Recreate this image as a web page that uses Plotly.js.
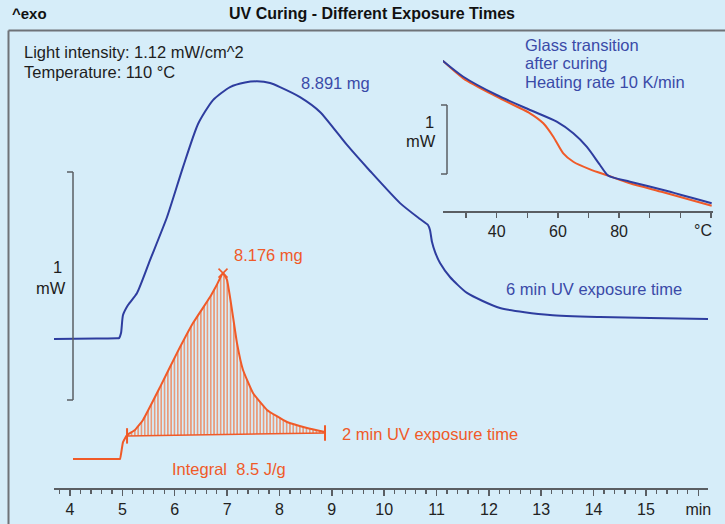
<!DOCTYPE html>
<html>
<head>
<meta charset="utf-8">
<script src="https://cdn.plot.ly/plotly-3.0.1.min.js"></script>
<style>
  html, body { margin: 0; padding: 0; background: #d6edf9; }
  #chart { width: 725px; height: 524px; }
</style>
</head>
<body>
<div id="chart"></div>
<script>
// ---- Main DSC curves (time in min, heat flow in mW, exo up) ----
const blueTime = [3.675, 4.5, 4.90, 4.936, 4.974, 5.012, 5.108, 5.280, 5.528, 5.853, 6.158, 6.445, 6.731, 7.056, 7.342, 7.571, 7.820, 8.011, 8.393, 8.775, 9.290, 9.730, 10.303, 10.685, 10.837, 10.875, 10.914, 10.971, 11.067, 11.257, 11.582, 12.212, 13.167, 14.122, 15.077, 16.185];
const blueHeatFlow = [0, 0.002, 0.003, 0.004, 0.026, 0.105, 0.149, 0.202, 0.346, 0.535, 0.754, 0.943, 1.048, 1.105, 1.125, 1.130, 1.123, 1.105, 1.061, 0.996, 0.851, 0.737, 0.596, 0.526, 0.500, 0.478, 0.425, 0.382, 0.333, 0.272, 0.202, 0.136, 0.105, 0.096, 0.092, 0.088];

const orangeTime = [4.057, 4.6, 4.92, 4.955, 5.012, 5.089, 5.241, 5.394, 5.719, 6.044, 6.349, 6.674, 6.80, 6.922, 6.998, 7.094, 7.189, 7.304, 7.495, 7.762, 8.144, 8.526, 8.870];
const orangeHeatFlow = [-0.526, -0.526, -0.526, -0.526, -0.452, -0.421, -0.399, -0.355, -0.211, -0.061, 0.070, 0.184, 0.236, 0.289, 0.259, 0.127, -0.018, -0.136, -0.237, -0.311, -0.364, -0.390, -0.408];

// integral limits and baseline
const integralTime = [5.089, 8.870];
const integralBaseline = [-0.425, -0.412];
const integralStartIndex = 5;
const peakIndex = 13;

// main axis ticks
const mainTickVals = [4, 5, 6, 7, 8, 9, 10, 11, 12, 13, 14, 15, 16];
const mainTickText = ['4', '5', '6', '7', '8', '9', '10', '11', '12', '13', '14', '15', 'min'];

// ---- Inset: glass transition after curing (°C vs mW) ----
const insetBlueTemp = [22.35, 29.08, 40, 50.88, 59.61, 65.03, 69.41, 73.76, 76.47, 83.56, 94.44, 110.26];
const insetBlueHeatFlow = [2.178, 1.946, 1.681, 1.464, 1.294, 1.126, 0.932, 0.667, 0.512, 0.425, 0.304, 0.112];
const insetOrangeTemp = [22.35, 29.08, 40, 50.88, 55.23, 58.50, 61.76, 65.03, 70.49, 76.47, 83.56, 94.44, 110.26];
const insetOrangeHeatFlow = [2.178, 1.923, 1.657, 1.416, 1.271, 1.077, 0.836, 0.714, 0.604, 0.512, 0.401, 0.271, 0.077];
const insetTickVals = [40, 60, 80];
const insetTickText = ['40', '60', '80'];

// ---- styling ----
const BG = '#d6edf9';
const BLUE = '#2e3d9f';
const BLUE_TXT = '#3a4aa8';
const ORANGE = '#f05a28';
const AXIS = '#5a5e63';
const FONT = 'Liberation Sans, Arial, Helvetica, sans-serif';
const TS = 16.5;
const W = 725, H = 524;
const X = p => p / W;
const Y = p => 1 - p / H;

const traces = [
  { // integral baseline
    x: integralTime, y: integralBaseline, xaxis: 'x', yaxis: 'y',
    mode: 'lines+markers', line: { color: ORANGE, width: 1.5 },
    marker: { symbol: 'line-ns-open', size: 11, color: ORANGE, line: { color: ORANGE, width: 2 } },
    hoverinfo: 'skip', showlegend: false
  },
  { // hatched integral area
    x: orangeTime.slice(integralStartIndex), y: orangeHeatFlow.slice(integralStartIndex),
    xaxis: 'x', yaxis: 'y', mode: 'lines', line: { width: 0, color: ORANGE, shape: 'spline', smoothing: 0.35 },
    fill: 'tonexty', fillcolor: 'rgba(0,0,0,0)',
    fillpattern: { shape: '|', size: 3.3, solidity: 0.34, fgcolor: '#f2743f', bgcolor: 'rgba(0,0,0,0)' },
    hoverinfo: 'skip', showlegend: false
  },
  { // 2 min curve
    x: orangeTime, y: orangeHeatFlow, xaxis: 'x', yaxis: 'y',
    mode: 'lines', line: { color: ORANGE, width: 2, shape: 'spline', smoothing: 0.35 }, hoverinfo: 'skip', showlegend: false
  },
  { // 6 min curve
    x: blueTime, y: blueHeatFlow, xaxis: 'x', yaxis: 'y',
    mode: 'lines', line: { color: BLUE, width: 2, shape: 'spline', smoothing: 0.6 }, hoverinfo: 'skip', showlegend: false
  },
  { // peak marker
    x: [orangeTime[peakIndex]], y: [orangeHeatFlow[peakIndex]], xaxis: 'x', yaxis: 'y',
    mode: 'markers', marker: { symbol: 'x-thin-open', size: 9, color: ORANGE, line: { color: ORANGE, width: 1.5 } },
    hoverinfo: 'skip', showlegend: false
  },
  { // inset orange
    x: insetOrangeTemp, y: insetOrangeHeatFlow, xaxis: 'x2', yaxis: 'y2',
    mode: 'lines', line: { color: ORANGE, width: 2, shape: 'spline', smoothing: 0.7 }, hoverinfo: 'skip', showlegend: false
  },
  { // inset blue
    x: insetBlueTemp, y: insetBlueHeatFlow, xaxis: 'x2', yaxis: 'y2',
    mode: 'lines', line: { color: BLUE, width: 2, shape: 'spline', smoothing: 0.7 }, hoverinfo: 'skip', showlegend: false
  }
];

function ann(text, px, py, opts) {
  return Object.assign({
    text: text, x: X(px), y: Y(py), xref: 'paper', yref: 'paper',
    xanchor: 'left', yanchor: 'middle', showarrow: false,
    font: { family: FONT, size: TS, color: '#1e1e1e' }
  }, opts || {});
}

const annotations = [
  ann('<b>^exo</b>', 10, 14, { font: { family: FONT, size: 15, color: '#111' } }),
  ann('<b>UV Curing - Different Exposure Times</b>', 372, 14, { xanchor: 'center', font: { family: FONT, size: 16, color: '#111' } }),
  ann('Light intensity: 1.12 mW/cm^2', 22, 52),
  ann('Temperature: 110 °C', 22, 72),
  ann('8.891 mg', 299, 83, { font: { family: FONT, size: TS, color: BLUE_TXT } }),
  ann('Glass transition', 523, 45, { font: { family: FONT, size: TS, color: BLUE_TXT } }),
  ann('after curing', 523, 63, { font: { family: FONT, size: TS, color: BLUE_TXT } }),
  ann('Heating rate 10 K/min', 523, 82, { font: { family: FONT, size: TS, color: BLUE_TXT } }),
  ann('1', 64, 267, { xanchor: 'right' }),
  ann('mW', 68, 288, { xanchor: 'right' }),
  ann('1', 436, 122, { xanchor: 'right' }),
  ann('mW', 438, 141, { xanchor: 'right' }),
  ann('°C', 714, 230, { xanchor: 'right', font: { family: FONT, size: 16, color: '#222' } }),
  ann('6 min UV exposure time', 504, 289, { font: { family: FONT, size: TS, color: BLUE_TXT } }),
  ann('8.176 mg', 232, 255, { font: { family: FONT, size: TS, color: ORANGE } }),
  ann('2 min UV exposure time', 340, 434, { font: { family: FONT, size: TS, color: ORANGE } }),
  ann('Integral&nbsp;&nbsp;8.5 J/g', 170, 469, { font: { family: FONT, size: TS, color: ORANGE } })
];

function pline(x0, y0, x1, y1, color, width) {
  return { type: 'line', xref: 'paper', yref: 'paper', x0: X(x0), y0: Y(y0), x1: X(x1), y1: Y(y1),
           line: { color: color, width: width }, layer: 'above' };
}

const shapes = [
  // frame
  pline(8.5, 30.5, 725, 30.5, '#6f7378', 2),
  pline(8.5, 30.5, 8.5, 524, '#6f7378', 2),
  // main 1 mW scale bar
  pline(73, 172, 73, 400, AXIS, 1.5),
  pline(67, 172, 73, 172, AXIS, 1.5),
  pline(67, 400, 73, 400, AXIS, 1.5),
  // inset 1 mW scale bar
  pline(447, 105, 447, 174, AXIS, 1.5),
  pline(441, 105, 447, 105, AXIS, 1.5),
  pline(441, 174, 447, 174, AXIS, 1.5)
];

const layout = {
  width: W, height: H,
  margin: { l: 0, r: 0, t: 0, b: 0, pad: 0 },
  paper_bgcolor: BG, plot_bgcolor: BG,
  showlegend: false,
  font: { family: FONT, size: 16, color: '#222' },
  xaxis: {
    domain: [X(54), X(708)], range: [3.694, 16.185], anchor: 'y',
    showgrid: false, zeroline: false, showline: true, linecolor: AXIS, linewidth: 2,
    tickmode: 'array', tickvals: mainTickVals, ticktext: mainTickText,
    ticks: 'outside', ticklen: 6, tickwidth: 1.5, tickcolor: AXIS,
    tickfont: { family: FONT, size: 16, color: '#222' },
    minor: { tickmode: 'linear', tick0: 0, dtick: 0.2, ticks: 'outside', ticklen: 4, tickwidth: 1.2, tickcolor: AXIS, showgrid: false },
    fixedrange: true
  },
  yaxis: {
    domain: [Y(488), 1], range: [-0.6535, 1.4868], anchor: 'x',
    visible: false, showgrid: false, zeroline: false, fixedrange: true
  },
  xaxis2: {
    domain: [X(443), X(713)], range: [22.45, 110.69], anchor: 'y2',
    showgrid: false, zeroline: false, showline: true, linecolor: AXIS, linewidth: 2,
    tickmode: 'array', tickvals: insetTickVals, ticktext: insetTickText,
    ticks: 'outside', ticklen: 5, tickwidth: 1.5, tickcolor: AXIS,
    tickfont: { family: FONT, size: 16, color: '#222' },
    minor: { tickmode: 'linear', tick0: 30, dtick: 10, ticks: 'outside', ticklen: 5, tickwidth: 1.5, tickcolor: AXIS, showgrid: false },
    fixedrange: true
  },
  yaxis2: {
    domain: [Y(211), Y(35)], range: [0, 2.551], anchor: 'x2',
    visible: false, showgrid: false, zeroline: false, fixedrange: true
  },
  annotations: annotations,
  shapes: shapes
};

Plotly.newPlot('chart', traces, layout, { displayModeBar: false, staticPlot: true });
</script>
</body>
</html>
